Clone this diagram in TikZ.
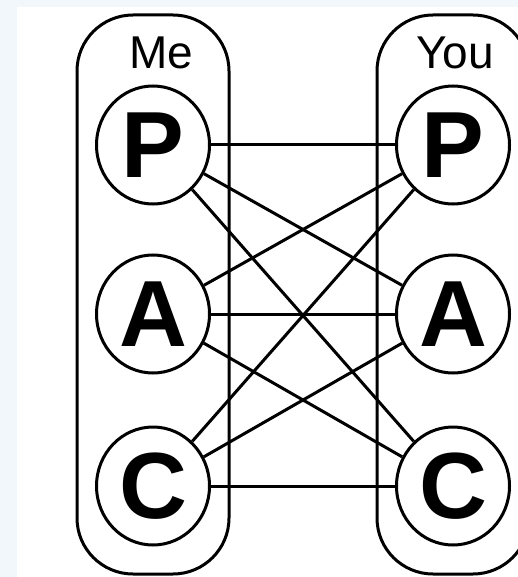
\documentclass[tikz,border=0pt]{standalone}
\usepackage{fontspec}
\setmainfont{Liberation Sans}
\usepackage{tikz}
\usetikzlibrary{shapes.geometric}

\definecolor{pagebg}{HTML}{F2F7FC}

\begin{document}
\begin{tikzpicture}[x=1pt,y=-1pt,line width=3pt,
  group/.style={draw, rounded corners=56pt, minimum width=152pt, minimum height=559pt, inner sep=0pt},
  role/.style={ellipse, draw, minimum width=113pt, minimum height=118pt, inner sep=0pt,
    font=\fontsize{94}{94}\selectfont\bfseries},
  who/.style={inner sep=0pt, font=\fontsize{46}{46}\selectfont}]
\useasboundingbox (0,0) rectangle (518,577);
\fill[pagebg] (0,0) rectangle (518,577);
\fill[white] (17,7) rectangle (518,577);
\clip (0,0) rectangle (518,577);

\node (me) at (153,294.5) [group] {};
\node (you) at (453,294.5) [group] {};
\node (mename) at (161,53) [who] {Me};
\node (youname) at (455,53) [who] {You};

\node (mp) at (153,145) [role] {P};
\node (ma) at (153,314) [role] {A};
\node (mc) at (153,486) [role] {C};
\node (yp) at (453,145) [role] {P};
\node (ya) at (453,314) [role] {A};
\node (yc) at (453,486) [role] {C};

\draw (mp) -- (yp);
\draw (mp) -- (ya);
\draw (mp) -- (yc);
\draw (ma) -- (yp);
\draw (ma) -- (ya);
\draw (ma) -- (yc);
\draw (mc) -- (yp);
\draw (mc) -- (ya);
\draw (mc) -- (yc);
\end{tikzpicture}
\end{document}
